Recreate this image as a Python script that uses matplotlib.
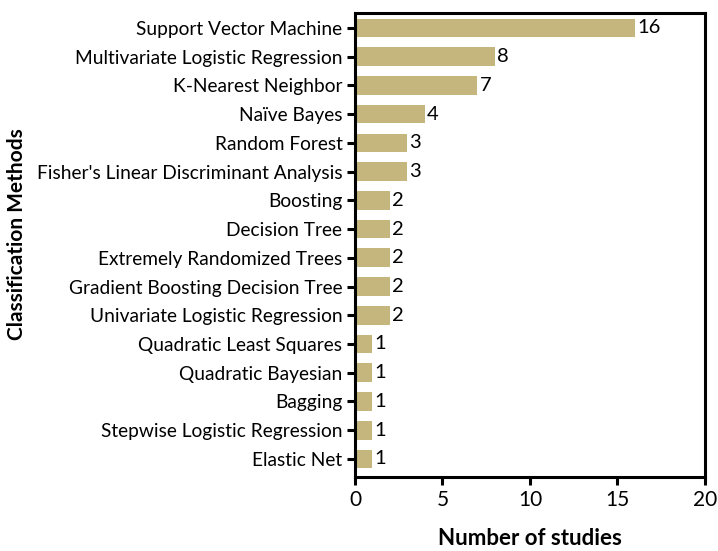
import matplotlib
matplotlib.use("Agg")
import matplotlib.pyplot as plt
import numpy as np

methods = [
    "Support Vector Machine",
    "Multivariate Logistic Regression",
    "K-Nearest Neighbor",
    "Naïve Bayes",
    "Random Forest",
    "Fisher's Linear Discriminant Analysis",
    "Boosting",
    "Decision Tree",
    "Extremely Randomized Trees",
    "Gradient Boosting Decision Tree",
    "Univariate Logistic Regression",
    "Quadratic Least Squares",
    "Quadratic Bayesian",
    "Bagging",
    "Stepwise Logistic Regression",
    "Elastic Net",
]
counts = [16, 8, 7, 4, 3, 3, 2, 2, 2, 2, 2, 1, 1, 1, 1, 1]
x_ticks = [0, 5, 10, 15, 20]

plt.rcParams['font.family'] = ['Lato', 'DejaVu Sans']

fig = plt.figure(figsize=(7.18, 5.51), dpi=100)
ax = fig.add_axes([0.4944, 0.1343, 0.4875, 0.8421])

ypos = np.arange(len(methods))[::-1]
bar_color = '#c4b67c'
ax.barh(ypos, counts, height=0.65, color=bar_color, edgecolor='none')

for y, c in zip(ypos, counts):
    ax.text(c + 0.12, y, str(c), va='center', ha='left', fontsize=14.5)

ax.set_yticks(ypos)
ax.set_yticklabels(methods, fontsize=13.8)
ax.set_xticks(x_ticks)
ax.set_xticklabels([str(t) for t in x_ticks], fontsize=15)
ax.set_xlim(0, 20)
ax.set_ylim(-0.63, 15.52)

for sp in ax.spines.values():
    sp.set_linewidth(2.2)
    sp.set_color('black')

ax.tick_params(axis='both', direction='out', length=6, width=2.2, pad=3)

ax.set_xlabel("Number of studies", fontsize=16, fontweight='bold', labelpad=13)
# y label placed in figure coordinates so it stays inside the canvas
fig.text(17 / 718, 1 - 234 / 551, "Classification Methods", rotation=90,
         fontsize=15, fontweight='bold', ha='center', va='center')

fig.savefig("out.png", dpi=100)
